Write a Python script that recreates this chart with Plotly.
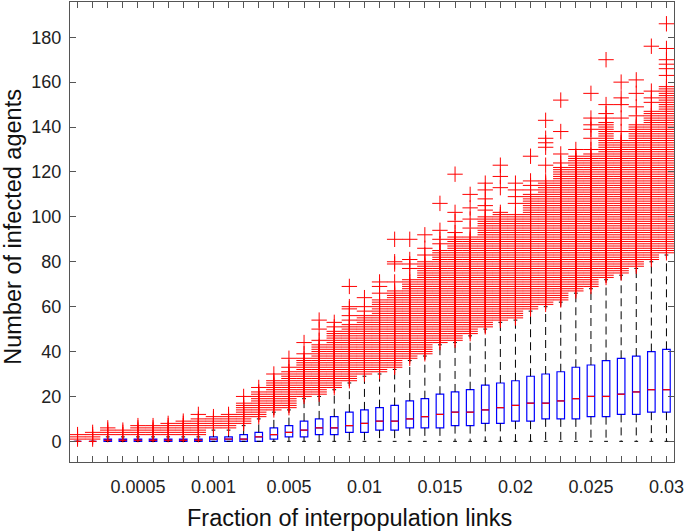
import plotly.graph_objects as go

# one box per link fraction, positions 1..40 on the x axis
n_boxes = 40
tick_positions = [5, 10, 15, 20, 25, 30, 35, 40]
tick_labels = ['0.0005', '0.001', '0.005', '0.01', '0.015', '0.02', '0.025', '0.03']

# box statistics
q1 = [0, 0, 0, 0, 0, 0, 0, 0, 0, 0,
      0, 0, 0, 1, 2, 2, 3, 3, 4, 4,
      5, 5, 6, 6, 6, 7, 7, 8, 8, 9,
      9, 10, 10, 10, 11, 11, 12, 12, 13, 13]
median = [0, 0, 0.5, 0.5, 0.5, 0.5, 0.5, 0.5, 0.5, 1,
          1, 1, 2, 3, 4, 5, 6, 6, 7, 8,
          9, 9, 10, 11, 12, 13, 13, 14, 15, 16,
          17, 17, 18, 19, 20, 20, 21, 22, 23, 23]
q3 = [0, 0, 1, 1, 1, 1, 1, 1, 1, 2,
      2, 3, 4, 6, 7, 9, 10, 11, 13, 14,
      15, 16, 18, 19, 21, 22, 23, 25, 26, 27,
      29, 30, 31, 33, 34, 36, 37, 38, 40, 41]
lower_whisker = [0] * 40
upper_whisker = [0, 0, 2, 2, 2, 2, 2, 2, 2, 5,
                 5, 7, 10, 13, 14, 19, 20, 23, 26, 29,
                 30, 32, 36, 38, 43, 44, 47, 50, 53, 54,
                 58, 60, 62, 66, 68, 72, 74, 77, 80, 83]

# outliers: every integer from upper whisker + 1 up to dense_top is present,
# plus the scattered values listed in sparse_outliers
dense_top = [3, 4, 6, 5, 7, 7, 8, 9, 10, 11,
             12, 17, 22, 26, 31, 37, 43, 49, 52, 56,
             63, 67, 72, 80, 85, 91, 91, 100, 102, 101,
             110, 116, 122, 127, 128, 142, 134, 141, 147, 158]
sparse_outliers = [
    [], [], [], [], [], [], [], [], [12], [],
    [], [20], [24], [27, 30], [33, 37], [39, 44], [45, 50, 54], [51, 53],
    [54, 56, 59, 60, 69], [58, 60, 64],
    [66, 69, 71], [71, 79, 80, 90], [77, 79, 81, 90], [83, 86, 92],
    [88, 90, 94, 106], [93, 98, 102, 119], [95, 99, 104, 110],
    [103, 105, 108, 112, 115], [113, 118, 123], [106, 109, 112, 115],
    [112, 114, 116, 127], [123, 131, 133, 135, 143], [124, 128, 138, 152],
    [130], [130, 135, 139, 141, 144, 155], [144, 146, 150, 170],
    [138, 144, 150, 153, 160], [145, 149, 155, 161],
    [151, 153, 156, 176], [163, 166, 168, 170, 175, 186],
]

pos = list(range(1, n_boxes + 1))
half_box = 0.25
half_cap = 0.125

fig = go.Figure()

# dashed whiskers
wx, wy = [], []
for p, a, b, lo, hi in zip(pos, q1, q3, lower_whisker, upper_whisker):
    if hi > b:
        wx += [p, p, None]
        wy += [b, hi, None]
    if lo < a:
        wx += [p, p, None]
        wy += [a, lo, None]
fig.add_trace(go.Scatter(x=wx, y=wy, mode='lines',
                         line=dict(color='black', width=1, dash='8px,5px'),
                         hoverinfo='skip', showlegend=False))

# whisker caps
cx, cy = [], []
for p, lo, hi in zip(pos, lower_whisker, upper_whisker):
    for v in (lo, hi):
        cx += [p - half_cap, p + half_cap, None]
        cy += [v, v, None]
fig.add_trace(go.Scatter(x=cx, y=cy, mode='lines',
                         line=dict(color='black', width=1),
                         hoverinfo='skip', showlegend=False))

# boxes
fig.add_trace(go.Box(x=pos, q1=q1, median=median, q3=q3,
                     lowerfence=q1, upperfence=q3,
                     width=0.5, whiskerwidth=0,
                     line=dict(color='#0000ff', width=1.2),
                     fillcolor='rgba(0,0,0,0)',
                     boxpoints=False, showlegend=False))

# red medians
mx, my = [], []
for p, m in zip(pos, median):
    mx += [p - half_box, p + half_box, None]
    my += [m, m, None]
fig.add_trace(go.Scatter(x=mx, y=my, mode='lines',
                         line=dict(color='#ff0000', width=1.2),
                         hoverinfo='skip', showlegend=False))

# outliers
ox, oy = [], []
for p, hi, top, extra in zip(pos, upper_whisker, dense_top, sparse_outliers):
    vals = list(range(hi + 1, top + 1)) + extra
    ox += [p] * len(vals)
    oy += vals
fig.add_trace(go.Scatter(x=ox, y=oy, mode='markers',
                         marker=dict(symbol='cross-thin', size=11,
                                     line=dict(color='#ff0000', width=1)),
                         showlegend=False))

axis_common = dict(showline=True, linecolor='#555555', linewidth=1, mirror='ticks',
                   ticks='inside', ticklen=6, tickcolor='#555555',
                   showgrid=False, zeroline=False, ticklabeloverflow='allow',
                   tickfont=dict(family='Liberation Sans, Arial, sans-serif',
                                 size=18, color='#222222'))

fig.update_xaxes(range=[0.5, 40.5], tickmode='array', tickvals=pos,
                 ticktext=[tick_labels[tick_positions.index(p)] if p in tick_positions else ''
                           for p in pos],
                 ticklabelstandoff=8, **axis_common)
fig.update_yaxes(range=[-9.2, 195.7], tickmode='array',
                 tickvals=list(range(0, 181, 20)),
                 ticklabelstandoff=4, **axis_common)

title_font = dict(family='Liberation Sans, Arial, sans-serif', size=23.5, color='#111111')
fig.add_annotation(text='Fraction of interpopulation links', xref='paper', yref='paper',
                   x=0.463, y=-0.1215, xanchor='center', yanchor='middle',
                   showarrow=False, font=title_font)
fig.add_annotation(text='Number of infected agents', xref='paper', yref='paper',
                   x=-0.094, y=0.512, xanchor='center', yanchor='middle',
                   textangle=-90, showarrow=False, font=title_font)

fig.update_layout(
    width=685, height=531,
    margin=dict(l=70, r=9, t=1, b=69),
    plot_bgcolor='white', paper_bgcolor='white',
)

# the page's default body margin would shift the fixed-size figure
fig.write_html("out.html", config={'displayModeBar': False},
               post_script="document.body.style.margin='0';")
